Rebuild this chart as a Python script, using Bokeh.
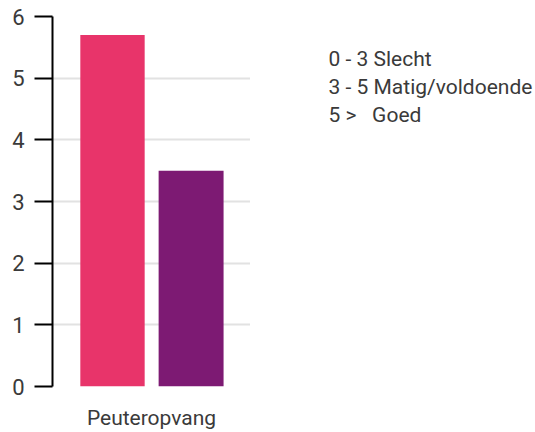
from bokeh.plotting import figure
from bokeh.models import FactorRange, Range1d, ColumnDataSource, FixedTicker, Label
from bokeh.layouts import row
from bokeh.transform import dodge
from bokeh.embed import file_html
from bokeh.resources import INLINE

categories = ["Peuteropvang"]
series_a = [5.7]
series_b = [3.5]
colors = ["#E8346A", "#7D1A73"]
y_ticks = [0, 1, 2, 3, 4, 5, 6]
legend_lines = ["0 - 3 Slecht", "3 - 5 Matig/voldoende", "5 >\u00a0\u00a0\u00a0Goed"]

FONT = "Roboto"
TXT = "#3a3a3a"

p = figure(width=250, height=432, x_range=FactorRange(*categories), y_range=Range1d(0, 6),
           output_backend="svg", toolbar_location=None,
           min_border_left=52, min_border_right=0, min_border_top=16, min_border_bottom=45)
p.outline_line_color = None

src = ColumnDataSource(dict(cat=categories, a=series_a, b=series_b))
p.vbar(x=dodge("cat", -0.197, range=p.x_range), top="a", width=0.325, source=src,
       fill_color=colors[0], line_color=None)
p.vbar(x=dodge("cat", 0.2, range=p.x_range), top="b", width=0.328, source=src,
       fill_color=colors[1], line_color=None)

p.xgrid.grid_line_color = None
p.ygrid.grid_line_color = "#e2e2e2"
p.ygrid.grid_line_width = 2
p.ygrid.ticker = FixedTicker(ticks=y_ticks)

yax = p.yaxis[0]
yax.ticker = FixedTicker(ticks=y_ticks)
yax.axis_line_color = "black"
yax.axis_line_width = 2
yax.major_tick_line_color = "black"
yax.major_tick_line_width = 2
yax.major_tick_out = 18
yax.major_tick_in = 0
yax.minor_tick_line_color = None
yax.major_label_text_font = FONT
yax.major_label_text_font_size = "22px"
yax.major_label_text_color = TXT
yax.major_label_standoff = 10

xax = p.xaxis[0]
xax.axis_line_color = None
xax.major_tick_line_color = None
xax.minor_tick_line_color = None
xax.major_label_text_font = FONT
xax.major_label_text_font_size = "21px"
xax.major_label_text_color = TXT
xax.major_label_standoff = 13

# side panel holding the legend text
p2 = figure(width=285, height=432, x_range=Range1d(0, 1), y_range=Range1d(0, 1),
            output_backend="svg", toolbar_location=None,
            min_border_left=0, min_border_right=0, min_border_top=0, min_border_bottom=0)
p2.outline_line_color = None
p2.axis.visible = False
p2.grid.grid_line_color = None
for i, t in enumerate(legend_lines):
    p2.add_layout(Label(x=78, y=328 - 28 * i, x_units="screen", y_units="screen", text=t,
                        text_font=FONT, text_font_size="21px", text_color=TXT,
                        text_baseline="alphabetic", text_align="left"))

layout = row(p, p2)
open("out.html", "w").write(file_html(layout, INLINE))
